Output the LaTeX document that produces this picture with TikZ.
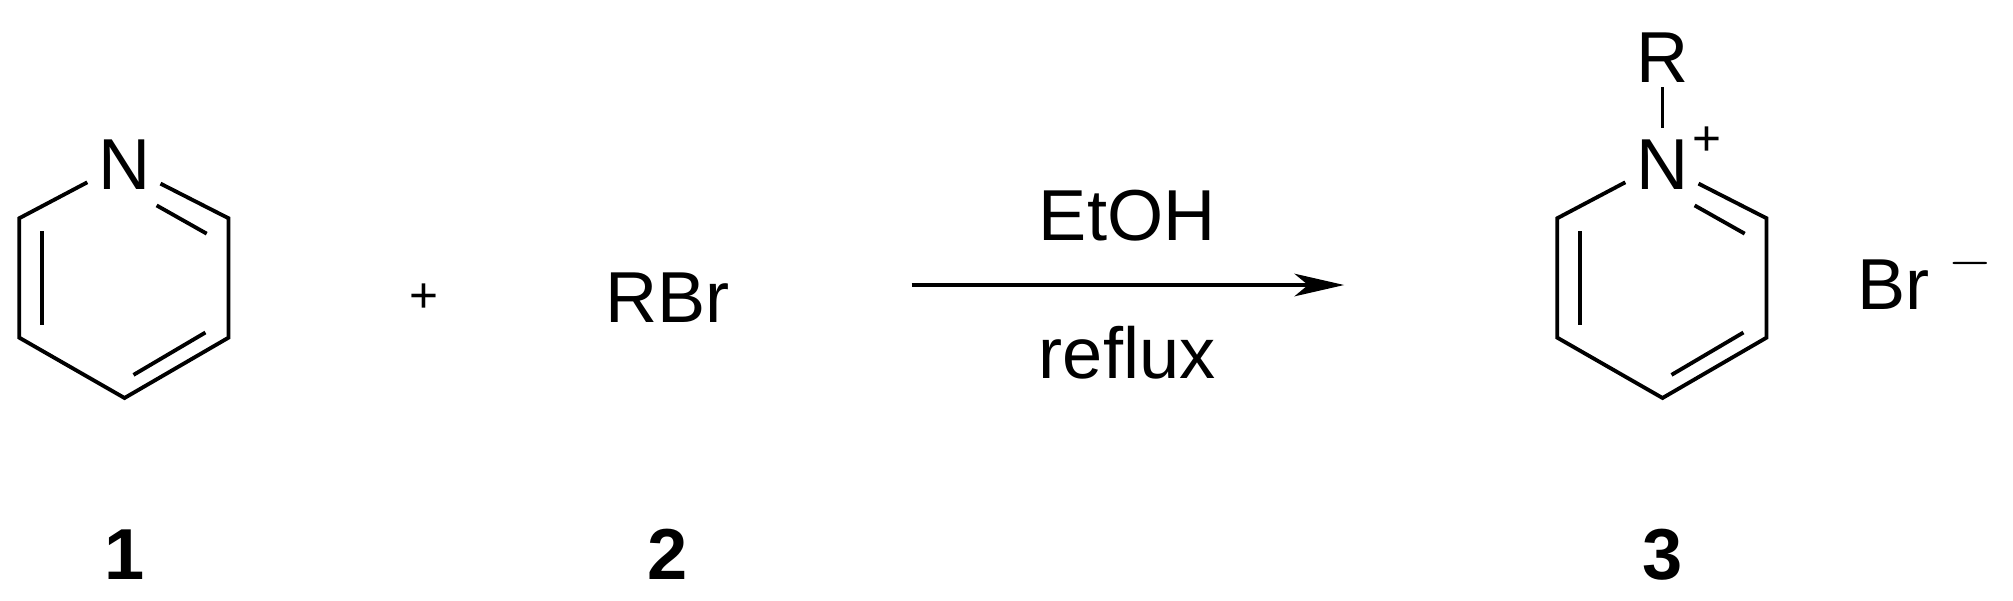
\documentclass[tikz,border=0pt]{standalone}
\usepackage{fontspec}
\setmainfont{Liberation Sans}
\usetikzlibrary{arrows.meta}
\begin{document}
\begin{tikzpicture}[x=0.02cm,y=-0.02cm,line width=1.7pt,
  lbl/.style={font=\fontsize{32}{38}\selectfont,inner sep=0pt},
  num/.style={font=\fontsize{32}{38}\selectfont\bfseries,inner sep=0pt}]
\useasboundingbox (0,0) rectangle (1568,468);
% pyridine 1
\begin{scope}
\node[lbl] (n1) at (97,128) {N};
\coordinate (a1) at (178,170); \coordinate (a2) at (178,263);
\coordinate (a3) at (97,310); \coordinate (a4) at (15,263); \coordinate (a5) at (15,170);
\draw (125,143) -- (a1) -- (a2) -- (a3) -- (a4) -- (a5) -- (68,142);
\draw (122,160) -- (161,182);
\draw (33,180) -- (33,253);
\draw (104,292) -- (160,259);
\end{scope}
% pyridinium 3
\begin{scope}[xshift=1198*0.02cm]
\node[lbl] (n3) at (97,128) {N};
\node[lbl] (r3) at (97,45) {R};
\node[font=\fontsize{22}{26}\selectfont,inner sep=0pt] (p3) at (132,110) {+};
\draw (97,68) -- (97,100);
\draw (125,143) -- (178,170) -- (178,263) -- (97,310) -- (15,263) -- (15,170) -- (68,142);
\draw (122,160) -- (161,182);
\draw (33,180) -- (33,253);
\draw (104,292) -- (160,259);
\end{scope}
\node[font=\fontsize{22}{26}\selectfont,inner sep=0pt] (plus) at (330,232) {+};
\node[lbl] (rbr) at (520,232) {RBr};
\node[lbl] (br) at (1475,222) {Br};
\node[font=\fontsize{32}{38}\selectfont,inner sep=0pt] (minus) at (1535,205) {$-$};
\coordinate (as) at (710,222); \coordinate (ae) at (1047,222);
\draw[-{Stealth[length=22pt,width=10pt,inset=6pt]}] (as) -- (ae);
\node[lbl] (etoh) at (878,168) {EtOH};
\node[lbl] (reflux) at (878,275) {reflux};
\node[num] (c1) at (97,432) {1};
\node[num] (c2) at (520,432) {2};
\node[num] (c3) at (1295,432) {3};
\end{tikzpicture}
\end{document}
